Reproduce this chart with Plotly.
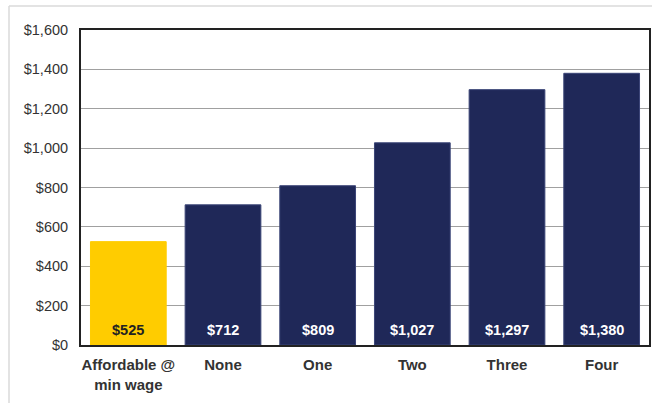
import plotly.graph_objects as go

categories = ["Affordable @<br>min wage", "None", "One", "Two", "Three", "Four"]
rents = [525, 712, 809, 1027, 1297, 1380]
bar_colors = ["#FFCC00", "#1F2858", "#1F2858", "#1F2858", "#1F2858", "#1F2858"]
line_colors = ["#FFCC00", "#3B4577", "#3B4577", "#3B4577", "#3B4577", "#3B4577"]
text_colors = ["#222222", "#FFFFFF", "#FFFFFF", "#FFFFFF", "#FFFFFF", "#FFFFFF"]
tick_vals = [0, 200, 400, 600, 800, 1000, 1200, 1400, 1600]
tick_text = ["$0", "$200", "$400", "$600", "$800", "$1,000", "$1,200", "$1,400", "$1,600"]

W, H = 652, 403
L, R, T, B = 81, 3, 30, 58
FONT = "Liberation Sans, Arial, sans-serif"

fig = go.Figure(
    go.Bar(
        x=categories,
        y=rents,
        marker=dict(color=bar_colors, line=dict(color=line_colors, width=1)),
    )
)

# value labels sitting near the base of each bar
for cat, val, col in zip(categories, rents, text_colors):
    fig.add_annotation(
        x=cat, y=0, text=f"${val:,}", showarrow=False,
        yanchor="bottom", yshift=5,
        font=dict(family=FONT, size=14.5, color=col, weight="bold"),
    )

pw = W - L - R
ph = H - T - B

fig.update_layout(
    width=W,
    height=H,
    margin=dict(l=L, r=R, t=T, b=B, autoexpand=False),
    plot_bgcolor="white",
    paper_bgcolor="white",
    bargap=0.2,
    showlegend=False,
    font=dict(family=FONT, color="#333333"),
    shapes=[
        # light outer frame
        dict(type="line", xref="paper", yref="paper",
             x0=(9 - L) / pw, x1=(W + 10 - L) / pw,
             y0=(H - B - 6) / ph, y1=(H - B - 6) / ph,
             line=dict(color="#DADADA", width=1.5)),
        dict(type="line", xref="paper", yref="paper",
             x0=(9 - L) / pw, x1=(9 - L) / pw,
             y0=(H - B - 6) / ph, y1=-(B + 10) / ph,
             line=dict(color="#DADADA", width=1.5)),
    ],
)

fig.update_xaxes(
    showline=True, linecolor="#222222", linewidth=2, mirror=True,
    ticks="", tickfont=dict(size=15, color="#333333", weight="bold"),
    ticklabelstandoff=5,
)
fig.update_yaxes(
    range=[0, 1600], tickvals=tick_vals, ticktext=tick_text,
    showgrid=True, gridcolor="#A0A0A0", gridwidth=1.3,
    showline=True, linecolor="#222222", linewidth=2, mirror=True,
    tickfont=dict(size=14.5, color="#333333"), ticks="", ticklabelstandoff=8,
    zeroline=False,
)

fig.write_html("out.html")
